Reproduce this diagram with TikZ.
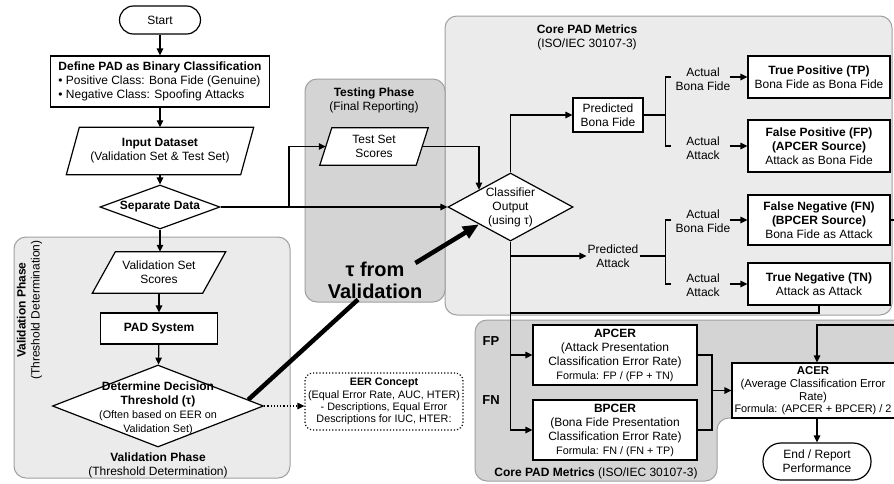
\documentclass[tikz,border=0pt]{standalone}
\usepackage{fontspec}
\setmainfont{Liberation Sans}
\usetikzlibrary{arrows.meta,shapes.geometric,calc}
\newcommand\tA{\fontsize{12}{14}\selectfont}
\newcommand\tS{\fontsize{10.8}{13}\selectfont}
\newcommand\parashape[2]{\filldraw[fill=white, line width=1.2pt] (#1.south west) -- ($(#1.north west)+(#2,0)$) -- (#1.north east) -- ($(#1.south east)+(-#2,0)$) -- cycle;}
\definecolor{regL}{HTML}{EBEBEB}
\definecolor{regD}{HTML}{D4D4D4}
\definecolor{regB}{HTML}{A0A0A0}
\begin{document}
\begin{tikzpicture}[x=1pt,y=-1pt,
  every node/.style={font=\tA, align=center, inner sep=1pt},
  ln/.style={line width=1.2pt, draw=black},
  arr/.style={ln, -{Triangle[length=7pt,width=6.5pt]}},
  rbox/.style={draw, line width=1.2pt, fill=white, inner sep=1pt},
  dia/.style={diamond, draw, line width=1.2pt, fill=white, inner sep=1pt},
  region/.style={draw=regB, line width=1pt, rounded corners=12pt},
  heavy/.style={line width=4.5pt, line cap=butt}]
\fill[white] (0,0) rectangle (894,483);
\useasboundingbox (0,0) rectangle (894,483);
\clip (0,0) rectangle (894,483);
% regions
\draw[region, fill=regL] (445,16) rectangle (892,315);
\draw[region, fill=regL] (14,237) rectangle (290,478);
\draw[region, fill=regD] (305,79) rectangle (445,302);
\draw[region, fill=regD] (475,320) -- (910,320) -- (910,418) -- (717,418) -- (717,481) -- (475,481) -- cycle;
% left column
\node[rbox, rounded corners=14pt, minimum width=81pt, minimum height=28pt] (start) at (160,20) {Start};
\node[rbox, minimum width=219pt, minimum height=51pt, align=left] (def) at (160,81.5) {\textbf{Define PAD as Binary Classification}\\• Positive Class: Bona Fide (Genuine)\\• Negative Class: Spoofing Attacks};
\node[minimum width=187pt, minimum height=47pt] (inp) at (160,151) {};
\parashape{inp}{13}
\node at (inp) {\textbf{Input Dataset}\\(Validation Set \& Test Set)};
\node[dia, minimum width=120pt, minimum height=44pt] (sep) at (160,207) {};
\node at (sep) {\textbf{Separate Data}};
\node[minimum width=133pt, minimum height=41pt] (vss) at (159,272.5) {};
\parashape{vss}{23}
\node at (vss) {Validation Set\\Scores};
\node[rbox, minimum width=117pt, minimum height=31pt] (pad) at (159,328.5) {\textbf{PAD System}};
\node[dia, minimum width=211pt, minimum height=82pt] (det) at (158,406) {};
\node at ($(det)+(0,2)$) {\textbf{Determine Decision}\\\textbf{Threshold (τ)}\\{\tS (Often based on EER on}\\{\tS Validation Set)}};
\node (vpt) at (158,465) {\textbf{Validation Phase}\\(Threshold Determination)};
\node[rotate=90] (vpr) at (29.5,310) {\textbf{Validation Phase}\\(Threshold Determination)};
% testing
\node (tpt) at (374,100) {\textbf{Testing Phase}\\(Final Reporting)};
\node[minimum width=108pt, minimum height=37pt] (tss) at (374,146.5) {};
\parashape{tss}{12}
\node at (tss) {Test Set\\Scores};
\node[font=\fontsize{20}{22}\selectfont\bfseries] (tau) at (375,280) {τ from\\Validation};
% EER
\node[draw, dotted, line width=1.2pt, rounded corners=8pt, minimum width=158pt, minimum height=57pt, font=\fontsize{10.8}{12.3}\selectfont] (eer) at (384,401.5) {\textbf{EER Concept}\\(Equal Error Rate, AUC, HTER)\\- Descriptions, Equal Error\\Descriptions for IUC, HTER:};
% core top
\node (cpt) at (587,37) {\textbf{Core PAD Metrics}\\(ISO/IEC 30107-3)};
\node[dia, minimum width=125pt, minimum height=68pt] (cls) at (510.5,207) {};
\node at (cls) {Classifier\\Output\\(using τ)};
\node[rbox, minimum width=70pt, minimum height=34pt] (pbf) at (608,115) {Predicted\\Bona Fide};
\node (pa) at (613,256) {Predicted\\Attack};
\node (abf1) at (703,79) {Actual\\Bona Fide};
\node (aat1) at (703,148) {Actual\\Attack};
\node (abf2) at (703,221) {Actual\\Bona Fide};
\node (aat2) at (703,285) {Actual\\Attack};
\node[rbox, minimum width=142pt, minimum height=42pt] (tp) at (819,77) {\textbf{True Positive (TP)}\\Bona Fide as Bona Fide};
\node[rbox, minimum width=142pt, minimum height=52pt] (fp) at (819,146) {\textbf{False Positive (FP)}\\\textbf{(APCER Source)}\\Attack as Bona Fide};
\node[rbox, minimum width=142pt, minimum height=50pt] (fn) at (819,220) {\textbf{False Negative (FN)}\\\textbf{(BPCER Source)}\\Bona Fide as Attack};
\node[rbox, minimum width=142pt, minimum height=42pt] (tn) at (819,284) {\textbf{True Negative (TN)}\\Attack as Attack};
% core bottom
\node[font=\fontsize{13}{15}\selectfont\bfseries] (fpl) at (491,341) {FP};
\node[font=\fontsize{13}{15}\selectfont\bfseries] (fnl) at (491,400) {FN};
\node[rbox, minimum width=164pt, minimum height=60pt] (apc) at (615,355) {\textbf{APCER}\\(Attack Presentation\\Classification Error Rate)\\{\tS Formula: FP / (FP + TN)}};
\node[rbox, minimum width=164pt, minimum height=60pt] (bpc) at (615,430) {\textbf{BPCER}\\(Bona Fide Presentation\\Classification Error Rate)\\{\tS Formula: FN / (FN + TP)}};
\node (cpb) at (596,473) {\textbf{Core PAD Metrics} (ISO/IEC 30107-3)};
\node[rbox, minimum width=176pt, minimum height=55pt] (acer) at (820,390.5) {};
\node[font=\fontsize{11.4}{12.6}\selectfont] at (813,391) {\textbf{ACER}\\(Average Classification Error\\Rate)\\{\fontsize{10.9}{12.6}\selectfont Formula: (APCER + BPCER) / 2}};
\node[rbox, rounded corners=18pt, minimum width=108pt, minimum height=37pt] (end) at (817,461.5) {End / Report\\Performance};
% connectors left
\draw[arr] (start) -- (def);
\draw[arr] (def) -- (inp);
\draw[arr] (inp) -- (sep);
\draw[arr] (sep.south) -- (sep.south |- vss.north);
\draw[arr] (vss) -- (pad);
\draw[arr] (pad) -- (det);
\draw[arr, dotted] (det.east) -- (det.east -| eer.west);
% to classifier
\coordinate (sb) at (289,207);
\draw[arr] (sep.east) -- (cls.west);
\draw[arr] (sb) |- ($(tss.west)+(6,0)$);
\draw[arr] ($(tss.east)+(-6,0)$) -| (cls.north west);
% heavy tau arrow
\draw[heavy] ($(det.east)!0.15!(det.north)$) -- ($(tau.south)+(-17,0)$);
\draw[heavy, -{Triangle[length=16pt,width=13pt]}] ($(tau.east)+(-8,-17)$) -- (cls.south west);
% classifier outputs
\coordinate (brx) at ($(abf1.west)+(-9,0)$);
\draw[arr] (cls.north) |- (pbf.west);
\draw[ln] (pbf.east) -- (pbf.east -| brx);
\draw[ln] ($(abf1.west|-tp.west)+(-3,0)$) -- (brx |- tp.west) -- (brx |- fp.west) -- ($(abf1.west|-fp.west)+(-3,0)$);
\draw[arr] ($(abf1.east|-tp.west)+(-2,0)$) -- (tp.west);
\draw[arr] ($(abf1.east|-fp.west)+(-2,0)$) -- (fp.west);
\draw[arr] (cls.south |- pa.west) -- (pa.west);
\draw[ln] (pa.east) -- (pa.east -| brx);
\draw[ln] ($(abf2.west|-fn.west)+(-3,0)$) -- (brx |- fn.west) -- (brx |- tn.west) -- ($(abf2.west|-tn.west)+(-3,0)$);
\draw[arr] ($(abf2.east|-fn.west)+(-2,0)$) -- (fn.west);
\draw[arr] ($(abf2.east|-tn.west)+(-2,0)$) -- (tn.west);
\coordinate (tnj) at (0,313);
\draw[ln] (tn.south) |- (cls.south |- tnj);
\draw[arr] (cls.south) |- (bpc.west);
\draw[arr] (cls.south |- apc.west) -- (apc.west);
% metrics
\coordinate (mx) at (712,0);
\draw[ln] (apc.east) -- (apc.east -| mx) -- (bpc.east -| mx) -- (bpc.east);
\draw[arr] (mx |- acer.west) -- (acer.west);
\coordinate (acin) at (817,325);
\draw[arr] (fn.east) -- ++(20,0) |- (acin) -- (acin |- acer.north);
\draw[arr] (acer.south -| end.north) -- (end.north);
\end{tikzpicture}
\end{document}
